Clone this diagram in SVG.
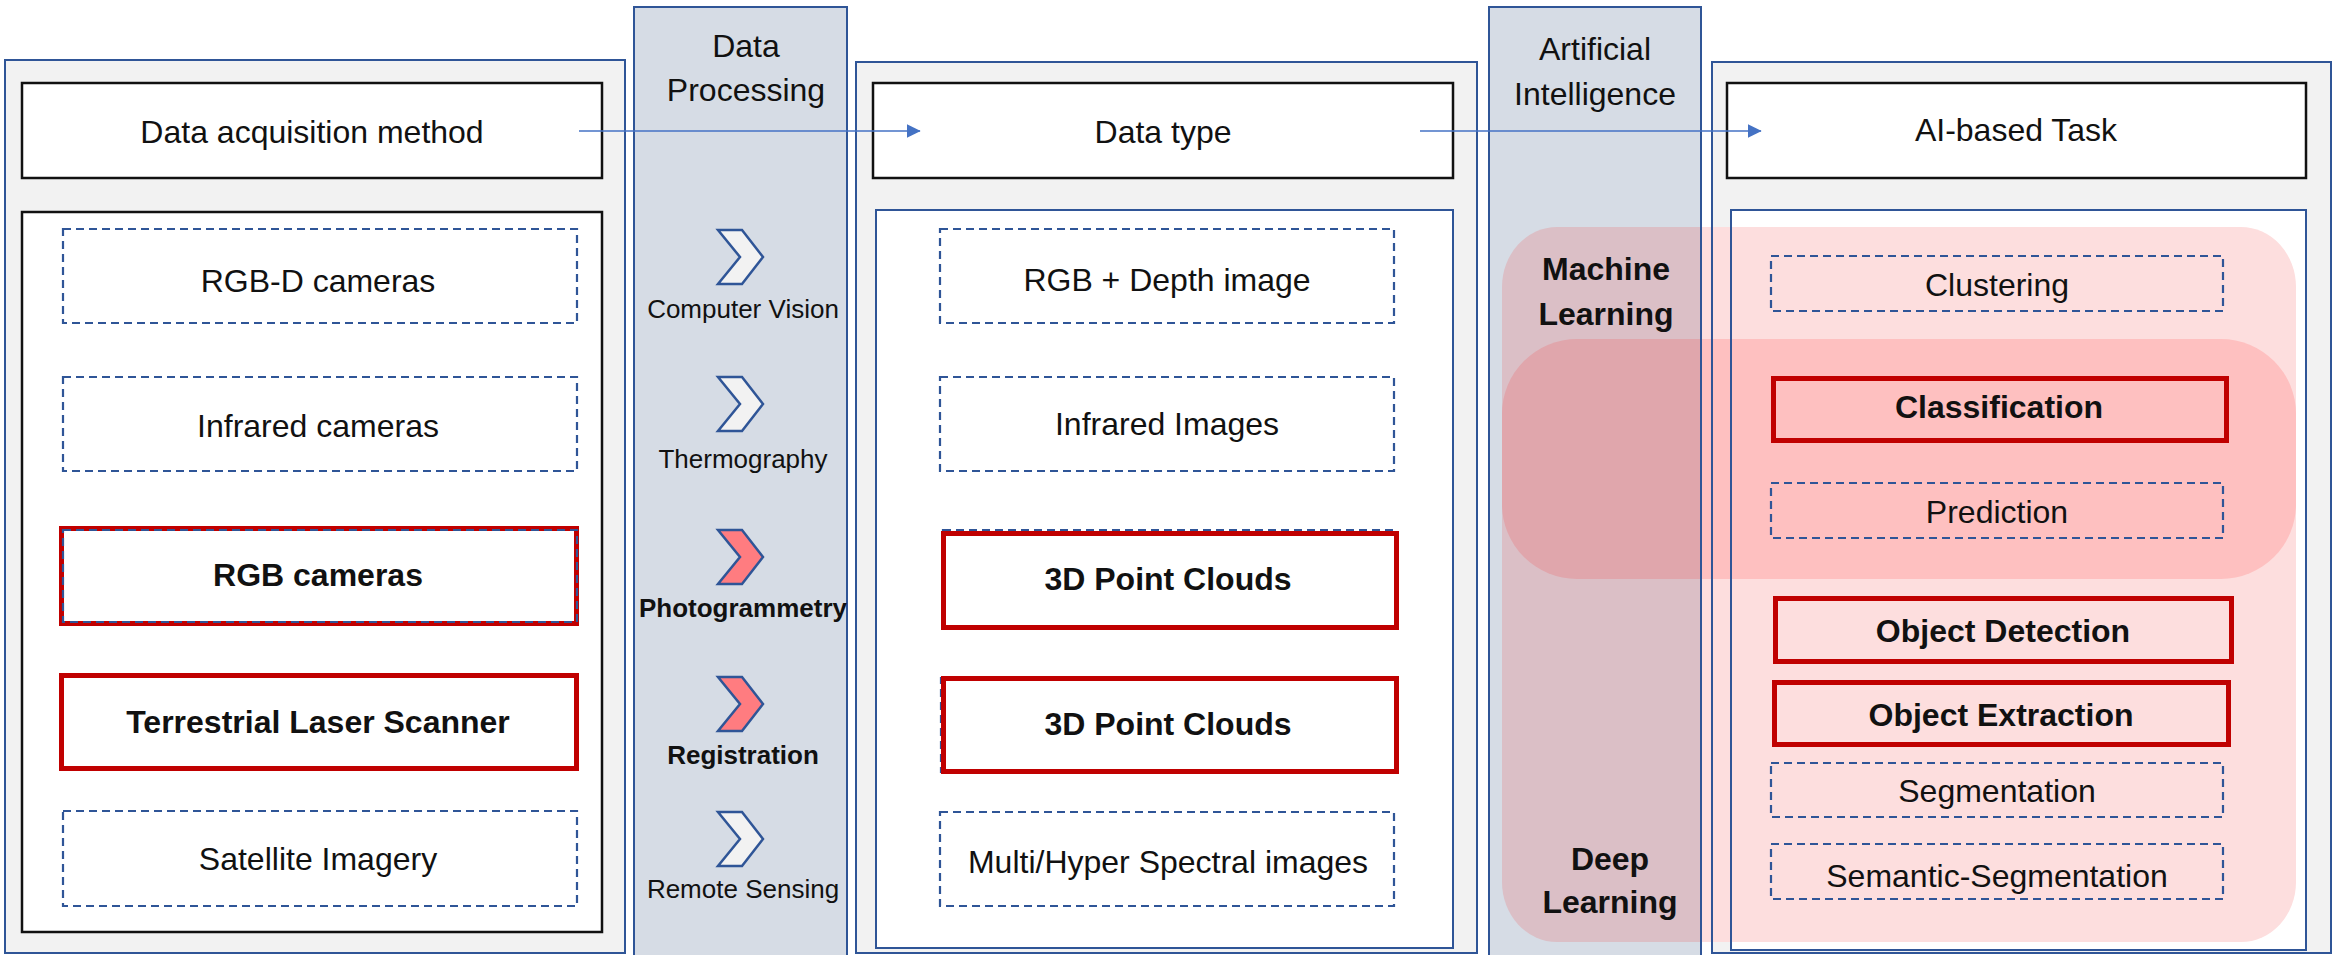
<svg xmlns="http://www.w3.org/2000/svg" width="2333" height="955" viewBox="0 0 2333 955">
  <defs>
    <style>
      text { font-family: "Liberation Sans", Arial, sans-serif; fill: #111; text-anchor: middle; }
      .lbl { font-size: 32px; }
      .bold { font-size: 32px; font-weight: bold; }
      .step { font-size: 26px; }
      .stepb { font-size: 26px; font-weight: bold; }
      .panel { fill: #F2F2F2; }
      .panel-edge { fill: none; stroke: #2F5597; stroke-width: 2; }
      .band { fill: #D6DCE5; stroke: #2F5597; stroke-width: 2; }
      .head { fill: #FFFFFF; stroke: #111; stroke-width: 2.5; }
      .inner-black { fill: #FFFFFF; stroke: #111; stroke-width: 2.5; }
      .inner-blue { fill: #FFFFFF; }
      .inner-blue-edge { fill: none; stroke: #2F5597; stroke-width: 2; }
      .dash { fill: none; stroke: #2F5597; stroke-width: 2.2; stroke-dasharray: 8 5; }
      .hl { fill: none; stroke: #C00000; stroke-width: 5; }
      .chev { stroke: #2F5597; stroke-width: 2.5; stroke-linejoin: miter; }
      .conn { fill: none; stroke: #4472C4; stroke-width: 1.6; }
    </style>
    <marker id="tri" viewBox="0 0 10 10" refX="9.5" refY="5" markerWidth="14" markerHeight="14" markerUnits="userSpaceOnUse" orient="auto">
      <path d="M0,0 L10,5 L0,10 Z" fill="#4472C4"/>
    </marker>
    <path id="chevron" d="M0,0 L24,0 L45,27 L24,54 L0,54 L22,27 Z"/>
    <rect id="ml-shape" x="1502" y="227" width="794" height="715" rx="55" ry="60"/>
    <rect id="dl-shape" x="1502" y="339" width="794" height="240" rx="75" ry="75"/>
    <clipPath id="on-band"><rect x="1489" y="0" width="212" height="955"/></clipPath>
    <clipPath id="off-band"><rect x="1701" y="0" width="640" height="955"/></clipPath>
  </defs>

  <!-- vertical bands -->
  <g id="band-processing">
    <rect class="band" x="634" y="7" width="213" height="960"/>
    <text class="lbl" x="746" y="57">Data</text>
    <text class="lbl" x="746" y="101">Processing</text>
  </g>
  <g id="band-ai">
    <rect class="band" x="1489" y="7" width="212" height="960"/>
    <text class="lbl" x="1595" y="60">Artificial</text>
    <text class="lbl" x="1595" y="105">Intelligence</text>
  </g>

  <!-- panel backgrounds -->
  <g id="panel-acquisition">
    <rect class="panel" x="5" y="60" width="620" height="893"/>
    <rect class="panel-edge" x="5" y="60" width="620" height="893"/>
    <rect class="inner-black" x="22" y="212" width="580" height="720"/>
  </g>
  <g id="panel-datatype">
    <rect class="panel" x="856" y="62" width="621" height="891"/>
    <rect class="panel-edge" x="856" y="62" width="621" height="891"/>
    <rect class="inner-blue" x="876" y="210" width="577" height="738"/>
    <rect class="inner-blue-edge" x="876" y="210" width="577" height="738"/>
  </g>
  <g id="panel-task">
    <rect class="panel" x="1712" y="62" width="619" height="891"/>
    <rect class="inner-blue" x="1731" y="210" width="575" height="740"/>
  </g>

  <!-- machine learning / deep learning regions -->
  <g id="region-learning">
    <use href="#ml-shape" clip-path="url(#on-band)" fill="#DBBFC6"/>
    <use href="#ml-shape" clip-path="url(#off-band)" fill="#FDDEDE"/>
    <use href="#dl-shape" clip-path="url(#on-band)" fill="#E0A6AC"/>
    <use href="#dl-shape" clip-path="url(#off-band)" fill="#FEC0C0"/>
    <text class="bold" x="1606" y="280">Machine</text>
    <text class="bold" x="1606" y="325">Learning</text>
    <text class="bold" x="1610" y="870">Deep</text>
    <text class="bold" x="1610" y="913">Learning</text>
  </g>

  <!-- edges drawn above the regions -->
  <g id="edges-task">
    <line x1="1701" y1="7" x2="1701" y2="955" stroke="#2F5597" stroke-width="2"/>
    <rect class="panel-edge" x="1712" y="62" width="619" height="891"/>
    <rect class="inner-blue-edge" x="1731" y="210" width="575" height="740"/>
  </g>

  <!-- header boxes -->
  <g id="head-acquisition">
    <rect class="head" x="22" y="83" width="580" height="95"/>
    <text class="lbl" x="312" y="143">Data acquisition method</text>
  </g>
  <g id="head-datatype">
    <rect class="head" x="873" y="83" width="580" height="95"/>
    <text class="lbl" x="1163" y="143">Data type</text>
  </g>
  <g id="head-task">
    <rect class="head" x="1727" y="83" width="579" height="95"/>
    <text class="lbl" x="2016" y="141">AI-based Task</text>
  </g>

  <!-- acquisition methods -->
  <g id="acq-rgbd">
    <rect class="dash" x="63" y="229" width="514" height="94"/>
    <text class="lbl" x="318" y="292">RGB-D cameras</text>
  </g>
  <g id="acq-infrared">
    <rect class="dash" x="63" y="377" width="514" height="94"/>
    <text class="lbl" x="318" y="437">Infrared cameras</text>
  </g>
  <g id="acq-rgb">
    <rect class="hl" x="61.5" y="528.5" width="515" height="95"/>
    <rect class="dash" x="63" y="530" width="514" height="92"/>
    <text class="bold" x="318" y="586">RGB cameras</text>
  </g>
  <g id="acq-tls">
    <rect class="hl" x="61.5" y="675.5" width="515" height="93"/>
    <text class="bold" x="318" y="733">Terrestrial Laser Scanner</text>
  </g>
  <g id="acq-satellite">
    <rect class="dash" x="63" y="811" width="514" height="95"/>
    <text class="lbl" x="318" y="870">Satellite Imagery</text>
  </g>

  <!-- processing steps -->
  <g id="step-cv">
    <use href="#chevron" x="718" y="230" class="chev" fill="#F2F2F2"/>
    <text class="step" x="743" y="318">Computer Vision</text>
  </g>
  <g id="step-thermo">
    <use href="#chevron" x="718" y="377" class="chev" fill="#F2F2F2"/>
    <text class="step" x="743" y="468">Thermography</text>
  </g>
  <g id="step-photo">
    <use href="#chevron" x="718" y="530" class="chev" fill="#FF7C80"/>
    <text class="stepb" x="743" y="617">Photogrammetry</text>
  </g>
  <g id="step-reg">
    <use href="#chevron" x="718" y="677" class="chev" fill="#FF7C80"/>
    <text class="stepb" x="743" y="764">Registration</text>
  </g>
  <g id="step-rs">
    <use href="#chevron" x="718" y="812" class="chev" fill="#F2F2F2"/>
    <text class="step" x="743" y="898">Remote Sensing</text>
  </g>

  <!-- data types -->
  <g id="type-rgbd">
    <rect class="dash" x="940" y="229" width="454" height="94"/>
    <text class="lbl" x="1167" y="291">RGB + Depth image</text>
  </g>
  <g id="type-infrared">
    <rect class="dash" x="940" y="377" width="454" height="94"/>
    <text class="lbl" x="1167" y="435">Infrared Images</text>
  </g>
  <g id="type-pc1">
    <rect class="dash" x="943" y="530" width="453" height="97"/>
    <rect class="hl" x="943.5" y="533.5" width="453" height="94"/>
    <text class="bold" x="1168" y="590">3D Point Clouds</text>
  </g>
  <g id="type-pc2">
    <rect class="dash" x="941" y="678" width="455" height="94"/>
    <rect class="hl" x="943.5" y="678.5" width="453" height="93"/>
    <text class="bold" x="1168" y="735">3D Point Clouds</text>
  </g>
  <g id="type-spectral">
    <rect class="dash" x="940" y="812" width="454" height="94"/>
    <text class="lbl" x="1168" y="873">Multi/Hyper Spectral images</text>
  </g>

  <!-- AI-based tasks -->
  <g id="task-clustering">
    <rect class="dash" x="1771" y="256" width="452" height="55"/>
    <text class="lbl" x="1997" y="296">Clustering</text>
  </g>
  <g id="task-classification">
    <rect class="hl" x="1773.5" y="378.5" width="453" height="62"/>
    <text class="bold" x="1999" y="418">Classification</text>
  </g>
  <g id="task-prediction">
    <rect class="dash" x="1771" y="483" width="452" height="55"/>
    <text class="lbl" x="1997" y="523">Prediction</text>
  </g>
  <g id="task-detection">
    <rect class="hl" x="1775.5" y="598.5" width="456" height="63"/>
    <text class="bold" x="2003" y="642">Object Detection</text>
  </g>
  <g id="task-extraction">
    <rect class="hl" x="1774.5" y="682.5" width="454" height="62"/>
    <text class="bold" x="2001" y="726">Object Extraction</text>
  </g>
  <g id="task-segmentation">
    <rect class="dash" x="1771" y="763" width="452" height="54"/>
    <text class="lbl" x="1997" y="802">Segmentation</text>
  </g>
  <g id="task-semantic">
    <rect class="dash" x="1771" y="844" width="452" height="55"/>
    <text class="lbl" x="1997" y="887">Semantic-Segmentation</text>
  </g>

  <!-- connectors -->
  <g id="connectors">
    <line class="conn" x1="579" y1="131" x2="920" y2="131" marker-end="url(#tri)"/>
    <line class="conn" x1="1420" y1="131" x2="1761" y2="131" marker-end="url(#tri)"/>
  </g>
</svg>
